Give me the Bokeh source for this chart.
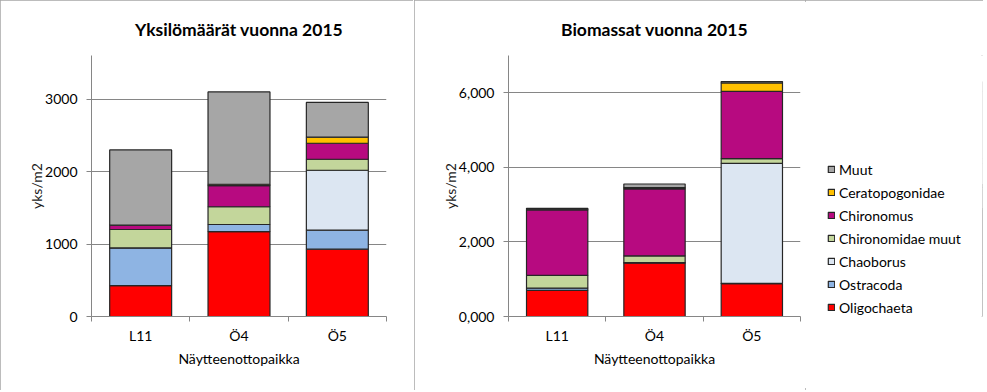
from bokeh.plotting import figure
from bokeh.models import Range1d, FixedTicker, Legend, LegendItem, ColumnDataSource
from bokeh.layouts import row
from bokeh.embed import file_html
from bokeh.resources import INLINE

sites = ["L11", "Ö4", "Ö5"]
taxa = ["Oligochaeta", "Ostracoda", "Chaoborus", "Chironomidae muut",
        "Chironomus", "Ceratopogonidae", "Muut"]
colors = ["#ff0000", "#8eb4e3", "#dce6f2", "#c3d69b", "#b70a80", "#ffc000", "#a6a6a6"]

# Yksilömäärät vuonna 2015 (yks/m2)
oligochaeta_n = [425, 1172, 928]
ostracoda_n = [521, 97, 263]
chaoborus_n = [0, 0, 826]
chir_muut_n = [254, 245, 152]
chironomus_n = [60, 290, 221]
cerato_n = [0, 20, 83]
muut_n = [1038, 1273, 480]

# Biomassat vuonna 2015
oligochaeta_b = [701, 1437, 880]
ostracoda_b = [63, 10, 10]
chaoborus_b = [0, 0, 3217]
chir_muut_b = [341, 180, 126]
chironomus_b = [1752, 1797, 1806]
cerato_b = [20, 30, 224]
muut_b = [25, 100, 37]

left_ticks = [0, 1000, 2000, 3000]
left_tick_labels = ["0", "1000", "2000", "3000"]
right_ticks = [0, 2000, 4000, 6000]
right_tick_labels = ["0,000", "2,000", "4,000", "6,000"]

FONT = "Lato"
H = 390
TOP = 55
BOTTOM = 74
GRID = "#868686"
BAR_LINE = "#262626"
OUTLINE = {"outline": "2px solid #a6a6a6", "outline-offset": "-2px"}


def stack_source(stacks):
    data = {"x": [i + 0.5 for i in range(len(sites))]}
    for t, vals in zip(taxa, stacks):
        data[t] = vals
    return ColumnDataSource(data)


def make_chart(title, src, y_max, ticks, tick_labels, width, left, right):
    p = figure(width=width, height=H, x_range=Range1d(0, len(sites)),
               y_range=Range1d(0, y_max), output_backend="svg",
               toolbar_location=None, min_border_left=left,
               min_border_right=right, min_border_top=TOP,
               min_border_bottom=BOTTOM, title=title)
    p.outline_line_color = None
    p.title.align = "center"
    p.title.vertical_align = "top"
    p.title.text_font = FONT
    p.title.text_font_size = "17.5px"
    p.title.text_font_style = "bold"
    p.title.text_color = "#000000"
    p.title.standoff = 28

    rs = p.vbar_stack(taxa, x="x", width=0.63, source=src, fill_color=colors,
                      line_color=BAR_LINE, line_width=1.2)

    # x axis
    xs = src.data["x"]
    xa = p.xaxis[0]
    xa.ticker = FixedTicker(ticks=xs, minor_ticks=list(range(len(sites) + 1)))
    xa.major_label_overrides = {x: s for x, s in zip(xs, sites)}
    xa.major_tick_line_color = None
    xa.major_tick_out = 0
    xa.major_tick_in = 0
    xa.minor_tick_line_color = GRID
    xa.minor_tick_out = 5
    xa.minor_tick_in = 0
    xa.axis_line_color = GRID
    xa.major_label_standoff = 5
    xa.major_label_text_font = FONT
    xa.major_label_text_font_size = "14px"
    xa.major_label_text_color = "#000000"
    xa.axis_label = "Näytteenottopaikka"
    xa.axis_label_text_font = FONT
    xa.axis_label_text_font_size = "14px"
    xa.axis_label_text_font_style = "normal"
    xa.axis_label_text_color = "#000000"
    xa.axis_label_standoff = 3

    # y axis
    ya = p.yaxis[0]
    ya.ticker = FixedTicker(ticks=ticks, minor_ticks=[])
    ya.major_label_overrides = {t: s for t, s in zip(ticks, tick_labels)}
    ya.major_tick_line_color = GRID
    ya.major_tick_out = 5
    ya.major_tick_in = 0
    ya.minor_tick_line_color = None
    ya.axis_line_color = GRID
    ya.major_label_standoff = 9
    ya.major_label_text_font = FONT
    ya.major_label_text_font_size = "14px"
    ya.major_label_text_color = "#000000"
    ya.axis_label = "yks/m2"
    ya.axis_label_text_font = FONT
    ya.axis_label_text_font_size = "14px"
    ya.axis_label_text_font_style = "normal"
    ya.axis_label_text_color = "#1a1a1a"
    ya.axis_label_standoff = -3

    p.xgrid.visible = False
    p.ygrid.ticker = FixedTicker(ticks=ticks[1:])
    p.ygrid.grid_line_color = GRID
    p.ygrid.grid_line_width = 1
    return p, rs


src1 = stack_source([oligochaeta_n, ostracoda_n, chaoborus_n, chir_muut_n,
                     chironomus_n, cerato_n, muut_n])
p1, _ = make_chart("Yksilömäärät vuonna 2015", src1,
                   3600, left_ticks, left_tick_labels, 413, 91, 27)
p1.styles = OUTLINE

src2 = stack_source([oligochaeta_b, ostracoda_b, chaoborus_b, chir_muut_b,
                     chironomus_b, cerato_b, muut_b])
p2, rs2 = make_chart("Biomassat vuonna 2015", src2,
                     7000, right_ticks, right_tick_labels, 391, 94, 5)

# legend panel: a small figure whose frame shows no data, only the legend
pleg = figure(width=178, height=H, x_range=Range1d(-2, -1), y_range=Range1d(0, 7000),
              output_backend="svg", toolbar_location=None,
              x_axis_location=None, y_axis_location=None,
              min_border_left=0, min_border_right=0, min_border_top=TOP,
              min_border_bottom=BOTTOM)
pleg.outline_line_color = None
pleg.xgrid.visible = False
pleg.ygrid.visible = False
leg_renderers = pleg.vbar_stack(taxa, x="x", width=0.63, source=src2, fill_color=colors,
                                line_color=BAR_LINE, line_width=1.2)
items = [LegendItem(label=t, renderers=[r]) for t, r in zip(taxa, leg_renderers)][::-1]
legend = Legend(items=items, location=(22, -1),
                glyph_width=8, glyph_height=8,
                label_standoff=4, spacing=3, label_height=20, padding=0, margin=0,
                border_line_color=None, background_fill_alpha=0,
                label_text_font=FONT, label_text_font_size="14px",
                label_text_color="#000000")
pleg.add_layout(legend)

right_panel = row(p2, pleg, spacing=0)
right_panel.styles = OUTLINE

layout = row(p1, right_panel, spacing=1)

open("out.html", "w").write(file_html(layout, INLINE))
